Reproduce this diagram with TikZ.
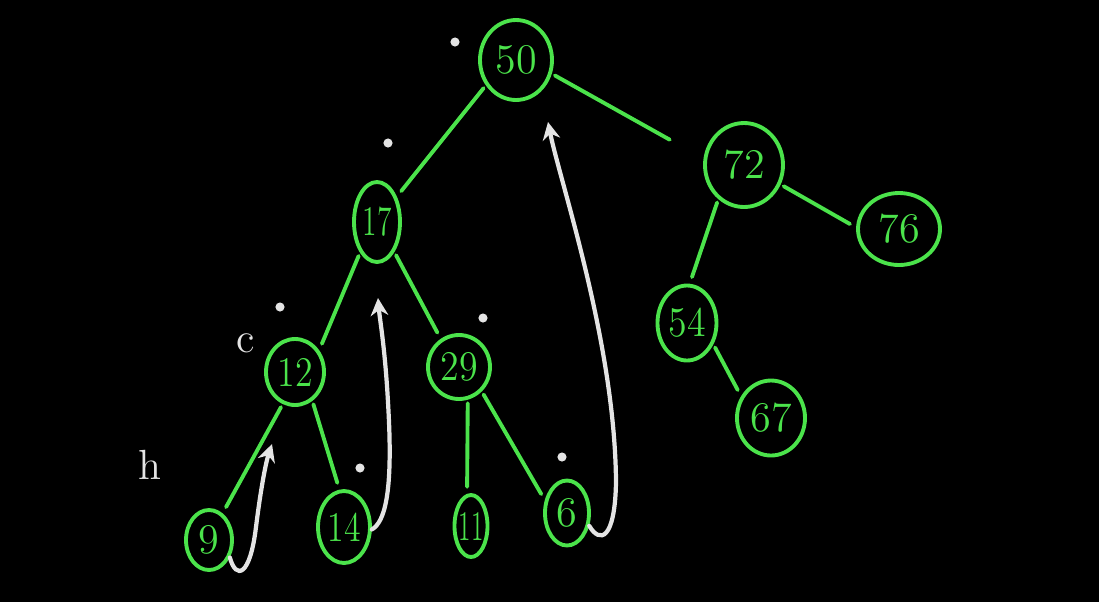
\documentclass[tikz,border=0pt]{standalone}
\usepackage{xcolor}
\usepackage{graphicx}
\usepackage{tikz}
\usetikzlibrary{arrows.meta, shapes.geometric}
\definecolor{chalkgreen}{HTML}{4BE34B}
\definecolor{chalkwhite}{HTML}{E4E4E4}

\begin{document}
\begin{tikzpicture}[
    treenode/.style={ellipse, draw=chalkgreen, line width=1.1pt, inner sep=0pt,
        text=chalkgreen, font=\large},
    edge/.style={chalkgreen, line width=1.1pt, line cap=round, shorten <=1pt, shorten >=2pt},
    walk/.style={chalkwhite, line width=1.2pt, line cap=round, -{Stealth[length=5pt,width=5pt]}},
    note/.style={text=chalkwhite, font=\large}]
    % Board
    \fill[black] (0,0) rectangle (10.99,6.02);
    \useasboundingbox (0,0) rectangle (10.99,6.02);
    % Nodes
    \foreach \name/\x/\y/\w/\h/\sx/\val in {n50/5.16/5.42/0.72cm/0.80cm/1/50,
        n17/3.77/3.80/0.46cm/0.80cm/0.7/17, n12/2.95/2.30/0.58cm/0.66cm/0.85/12,
        n29/4.59/2.35/0.62cm/0.64cm/0.9/29, n9/2.09/0.62/0.46cm/0.60cm/1/9,
        n14/3.44/0.75/0.52cm/0.72cm/0.8/14, n11/4.71/0.76/0.33cm/0.62cm/0.6/11,
        n6/5.67/0.89/0.44cm/0.65cm/1/6, n72/7.44/4.37/0.78cm/0.84cm/1/72,
        n76/8.99/3.73/0.82cm/0.72cm/1/76, n54/6.87/2.79/0.59cm/0.75cm/0.9/54,
        n67/7.71/1.84/0.68cm/0.75cm/1/67}
        \node[treenode, minimum width=\w, minimum height=\h] (\name) at (\x,\y)
            {\makebox[0pt]{\scalebox{\sx}[1]{\val}}};
    % Edges
    \draw[edge] (n50.220) -- (n17.52);
    \draw[edge, shorten >=11pt] (n50.-21) -- (n72.171);
    \draw[edge] (n17.241) -- (n12.42);
    \draw[edge] (n17.-60) -- (n29.123);
    \draw[edge] (n12.249) -- (n9.63);
    \draw[edge] (n12.-59) -- (n14.97);
    \draw[edge] (n29.-75) -- (n11.97);
    \draw[edge] (n29.-47) -- (n6.150);
    \draw[edge] (n72.233) -- (n54.86);
    \draw[edge] (n72.-28) -- (n76.178);
    \draw[edge] (n54.-39) -- (n67.144);
    % Tips of the white arrows
    \coordinate (t1) at (2.72,1.58);
    \coordinate (t2) at (3.78,3.04);
    \coordinate (t3) at (5.48,4.80);
    % Arrows
    \draw[walk] (n9.-40) .. controls (2.36,0.22) and (2.50,0.25) .. (2.56,0.75)
        .. controls (2.61,1.15) and (2.66,1.40) .. (t1);
    \draw[walk] (n14.-5) .. controls (3.85,0.80) and (3.92,1.10) .. (3.89,1.80)
        .. controls (3.86,2.50) and (3.80,2.80) .. (t2);
    \draw[walk] (n6.-30) .. controls (6.00,0.58) and (6.15,0.62) .. (6.16,1.20)
        .. controls (6.15,2.60) and (5.60,4.20) .. (t3);
    % Marks
    \foreach \x/\y in {4.55/5.60, 3.88/4.59, 2.80/2.95, 4.83/2.84, 3.60/1.34, 5.62/1.45}
        \fill[chalkwhite] (\x,\y) circle (1.3pt);
    \node[note] (lblc) at (2.46,2.59) {c};
    \node[note] (lblh) at (1.50,1.37) {h};
\end{tikzpicture}
\end{document}
